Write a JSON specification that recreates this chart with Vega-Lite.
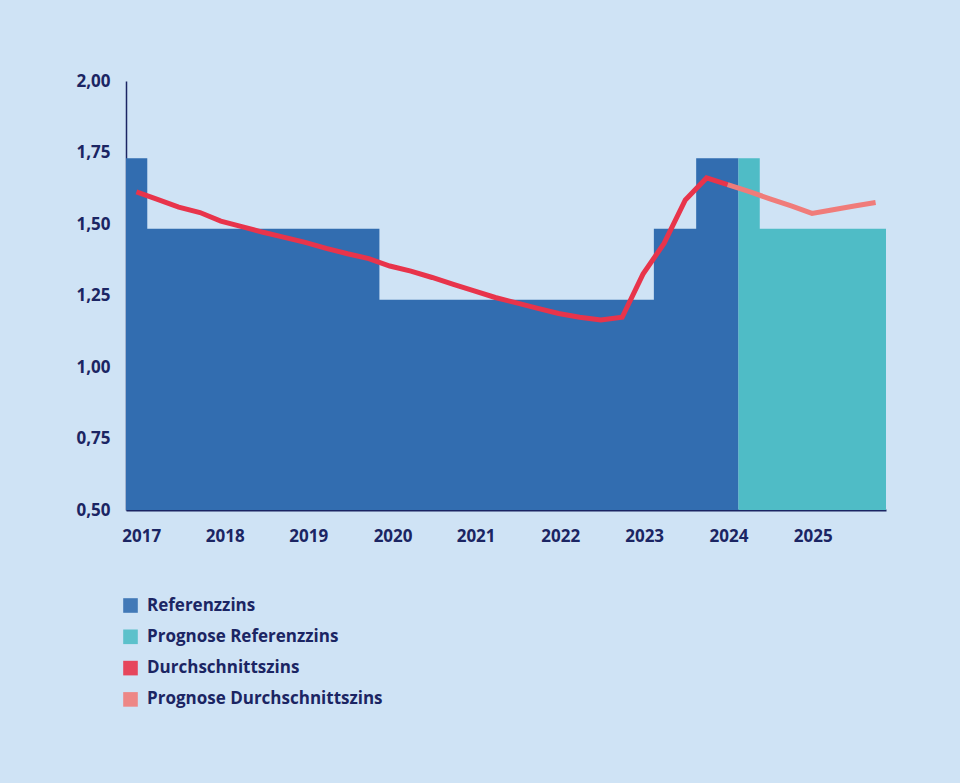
{
  "$schema": "https://vega.github.io/schema/vega-lite/v6.json",
  "autosize": "none",
  "width": 760,
  "height": 429,
  "padding": {"left": 126, "top": 81, "right": 74, "bottom": 273},
  "background": "#cfe3f5",
  "config": {
    "view": {"stroke": null},
    "font": "Open Sans",
    "axis": {
      "labelFont": "Open Sans",
      "labelFontSize": 17,
      "labelFontWeight": "bold",
      "labelColor": "#1b2563",
      "domainColor": "#1b2563",
      "ticks": false,
      "grid": false,
      "title": null
    },
    "legend": {
      "labelFont": "Open Sans",
      "labelFontSize": 17,
      "labelFontWeight": "bold",
      "labelColor": "#1b2563",
      "labelLimit": 0
    }
  },
  "datasets": {
    "referenz": [
      {"datum": "2017-03-01", "zins": 1.73, "serie": "Referenzzins"},
      {"datum": "2017-06-01", "zins": 1.483, "serie": "Referenzzins"},
      {"datum": "2020-03-01", "zins": 1.235, "serie": "Referenzzins"},
      {"datum": "2023-06-01", "zins": 1.483, "serie": "Referenzzins"},
      {"datum": "2023-12-01", "zins": 1.73, "serie": "Referenzzins"},
      {"datum": "2024-06-01", "zins": 1.73, "serie": "Referenzzins"},
      {"datum": "2024-06-01", "zins": 1.73, "serie": "Prognose Referenzzins"},
      {"datum": "2024-09-01", "zins": 1.483, "serie": "Prognose Referenzzins"},
      {"datum": "2026-03-01", "zins": 1.483, "serie": "Prognose Referenzzins"}
    ],
    "durchschnitt": [
      {"datum": "2017-04-15", "zins": 1.612, "serie": "Durchschnittszins"},
      {"datum": "2017-07-15", "zins": 1.586, "serie": "Durchschnittszins"},
      {"datum": "2017-10-15", "zins": 1.559, "serie": "Durchschnittszins"},
      {"datum": "2018-01-15", "zins": 1.540, "serie": "Durchschnittszins"},
      {"datum": "2018-04-15", "zins": 1.510, "serie": "Durchschnittszins"},
      {"datum": "2018-07-15", "zins": 1.491, "serie": "Durchschnittszins"},
      {"datum": "2018-10-15", "zins": 1.471, "serie": "Durchschnittszins"},
      {"datum": "2019-01-15", "zins": 1.453, "serie": "Durchschnittszins"},
      {"datum": "2019-04-15", "zins": 1.436, "serie": "Durchschnittszins"},
      {"datum": "2019-07-15", "zins": 1.415, "serie": "Durchschnittszins"},
      {"datum": "2019-10-15", "zins": 1.396, "serie": "Durchschnittszins"},
      {"datum": "2020-01-15", "zins": 1.379, "serie": "Durchschnittszins"},
      {"datum": "2020-04-15", "zins": 1.353, "serie": "Durchschnittszins"},
      {"datum": "2020-07-15", "zins": 1.335, "serie": "Durchschnittszins"},
      {"datum": "2020-10-15", "zins": 1.313, "serie": "Durchschnittszins"},
      {"datum": "2021-01-15", "zins": 1.289, "serie": "Durchschnittszins"},
      {"datum": "2021-04-15", "zins": 1.266, "serie": "Durchschnittszins"},
      {"datum": "2021-07-15", "zins": 1.243, "serie": "Durchschnittszins"},
      {"datum": "2021-10-15", "zins": 1.224, "serie": "Durchschnittszins"},
      {"datum": "2022-01-15", "zins": 1.205, "serie": "Durchschnittszins"},
      {"datum": "2022-04-15", "zins": 1.187, "serie": "Durchschnittszins"},
      {"datum": "2022-07-15", "zins": 1.174, "serie": "Durchschnittszins"},
      {"datum": "2022-10-15", "zins": 1.164, "serie": "Durchschnittszins"},
      {"datum": "2023-01-15", "zins": 1.174, "serie": "Durchschnittszins"},
      {"datum": "2023-04-15", "zins": 1.325, "serie": "Durchschnittszins"},
      {"datum": "2023-07-15", "zins": 1.432, "serie": "Durchschnittszins"},
      {"datum": "2023-10-15", "zins": 1.584, "serie": "Durchschnittszins"},
      {"datum": "2024-01-15", "zins": 1.661, "serie": "Durchschnittszins"},
      {"datum": "2024-04-15", "zins": 1.638, "serie": "Durchschnittszins"},
      {"datum": "2024-04-15", "zins": 1.638, "serie": "Prognose Durchschnittszins"},
      {"datum": "2024-07-15", "zins": 1.614, "serie": "Prognose Durchschnittszins"},
      {"datum": "2024-10-15", "zins": 1.588, "serie": "Prognose Durchschnittszins"},
      {"datum": "2025-01-15", "zins": 1.563, "serie": "Prognose Durchschnittszins"},
      {"datum": "2025-04-15", "zins": 1.537, "serie": "Prognose Durchschnittszins"},
      {"datum": "2025-07-15", "zins": 1.550, "serie": "Prognose Durchschnittszins"},
      {"datum": "2025-10-15", "zins": 1.563, "serie": "Prognose Durchschnittszins"},
      {"datum": "2026-01-15", "zins": 1.575, "serie": "Prognose Durchschnittszins"}
    ]
  },
  "layer": [
    {
      "data": {"name": "referenz"},
      "mark": {"type": "area", "interpolate": "step-after", "opacity": 1},
      "encoding": {
        "x": {
          "field": "datum",
          "type": "temporal",
          "scale": {
            "type": "utc",
            "domain": [
              {"year": 2017, "month": 3, "date": 1, "utc": true},
              {"year": 2026, "month": 3, "date": 1, "utc": true}
            ]
          },
          "axis": {
            "domainWidth": 2,
            "labelPadding": 18,
            "labelAngle": 0,
            "format": "%Y",
            "values": [
              {"year": 2017, "month": 5, "date": 6, "utc": true},
              {"year": 2018, "month": 5, "date": 2, "utc": true},
              {"year": 2019, "month": 4, "date": 28, "utc": true},
              {"year": 2020, "month": 4, "date": 27, "utc": true},
              {"year": 2021, "month": 4, "date": 21, "utc": true},
              {"year": 2022, "month": 4, "date": 22, "utc": true},
              {"year": 2023, "month": 4, "date": 20, "utc": true},
              {"year": 2024, "month": 4, "date": 19, "utc": true},
              {"year": 2025, "month": 4, "date": 18, "utc": true}
            ]
          }
        },
        "y": {
          "field": "zins",
          "type": "quantitative",
          "scale": {"domain": [0.5, 2.0], "zero": false, "nice": false},
          "axis": {
            "domainWidth": 1.5,
            "labelPadding": 16,
            "values": [0.5, 0.75, 1.0, 1.25, 1.5, 1.75, 2.0],
            "labelExpr": "replace(format(datum.value, '.2f'), '.', ',')"
          }
        },
        "y2": {"datum": 0.5},
        "color": {
          "field": "serie",
          "type": "nominal",
          "scale": {
            "domain": ["Referenzzins", "Prognose Referenzzins", "Durchschnittszins", "Prognose Durchschnittszins"],
            "range": ["#326db0", "#4fbcc6", "#e8344b", "#f07c7a"]
          },
          "legend": {
            "title": null,
            "orient": "none",
            "legendX": -4,
            "legendY": 516,
            "direction": "vertical",
            "symbolType": "square",
            "symbolSize": 213,
            "symbolOpacity": 0.9,
            "symbolStrokeWidth": 0,
            "rowPadding": 13.3,
            "labelOffset": 8
          }
        }
      }
    },
    {
      "data": {"name": "durchschnitt"},
      "mark": {"type": "line", "strokeWidth": 5},
      "encoding": {
        "x": {"field": "datum", "type": "temporal"},
        "y": {"field": "zins", "type": "quantitative"},
        "color": {"field": "serie", "type": "nominal", "legend": null}
      }
    }
  ]
}
